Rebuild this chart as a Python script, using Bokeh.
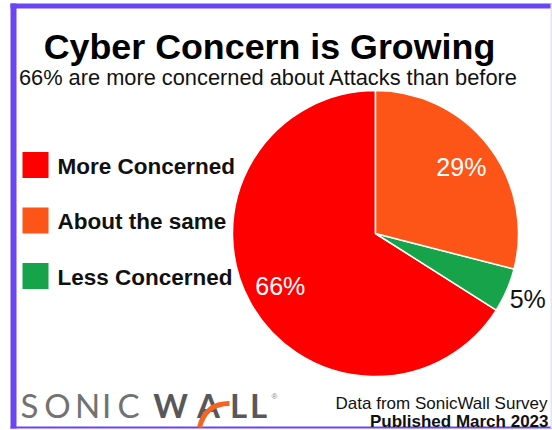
import math
from bokeh.plotting import figure
from bokeh.models import Range1d, ColumnDataSource
from bokeh.embed import file_html
from bokeh.resources import INLINE
from bokeh.core.properties import value

# ---------------- data ----------------
categories = ["More Concerned", "About the same", "Less Concerned"]
percents = [66, 29, 5]
colors = ["#fe0000", "#fd5518", "#17a34a"]
label_texts = ["66%", "29%", "5%"]
# drawing order, anticlockwise from 12 o'clock
pie_order = ["More Concerned", "Less Concerned", "About the same"]

title = "Cyber Concern is Growing"
subtitle = "66% are more concerned about Attacks than before"
source_line1 = "Data from SonicWall Survey"
source_line2 = "Published March 2023"
logo_light = "SONIC"
logo_bold = "WALL"

# ---------------- layout ----------------
W, H = 552, 430


def X(px):               # picture pixel -> local x
    return px


def Y(py):               # picture pixel (from top) -> local y
    return H - py


FONT = value("Liberation Sans")
BORDER = "#6a45f6"

p = figure(width=W, height=H, x_range=Range1d(0, W), y_range=Range1d(0, H),
           output_backend="svg", toolbar_location=None, min_border=0,
           x_axis_type=None, y_axis_type=None,
           background_fill_color="white", border_fill_color="white",
           outline_line_color=None)
p.grid.visible = False

# frame
p.quad(left=[X(10), X(10), X(10), X(550)], right=[W, X(16), W, W],
       top=[Y(3), Y(3), Y(426), Y(3)], bottom=[Y(8), Y(428), Y(428), Y(428)],
       fill_color=[BORDER, BORDER, BORDER, "#e6e4f4"], line_color=None)

# pie
cx, cy, R = X(375), Y(233), 143
idx = {c: i for i, c in enumerate(categories)}
starts, ends, cols, mids, labs, pcts = [], [], [], [], [], []
a = math.pi / 2
for c in pie_order:
    i = idx[c]
    sweep = percents[i] / 100 * 2 * math.pi
    starts.append(a)
    ends.append(a + sweep)
    mids.append(a + sweep / 2)
    cols.append(colors[i])
    labs.append(label_texts[i])
    pcts.append(percents[i])
    a += sweep

src = ColumnDataSource(dict(x=[cx] * 3, y=[cy] * 3, start=starts, end=ends, color=cols))
p.wedge(x="x", y="y", radius=R, radius_units="screen", start_angle="start", end_angle="end",
        fill_color="color", line_color="white", line_width=1.5, source=src)

lx, ly, lc = [], [], []
for m, v in zip(mids, pcts):
    f = 0.76 if v >= 10 else 1.16
    lx.append(cx + f * R * math.cos(m))
    ly.append(cy + f * R * math.sin(m))
    lc.append("white" if v >= 10 else "#111111")
p.text(x=lx, y=ly, text=labs, text_color=lc, text_font=FONT, text_font_size="25px",
       text_align="center", text_baseline="middle")

# titles
p.text(x=[X(269)], y=[Y(46)], text=[title], text_font=FONT, text_font_size="35.8px",
       text_font_style="bold", text_color="#000000", text_align="center",
       text_baseline="alphabetic")
p.text(x=[X(268)], y=[Y(77)], text=[subtitle], text_font=FONT, text_font_size="21.8px",
       text_color="#111111", text_align="center", text_baseline="alphabetic")

# legend
ys = [Y(164.5) - 55.5 * i for i in range(len(categories))]
p.scatter(x=[X(35)] * 3, y=ys, marker="square", size=26, fill_color=colors, line_color=None)
p.text(x=[X(57)] * 3, y=[v - 1 for v in ys], text=categories, text_font=FONT,
       text_font_size="22.5px", text_font_style="bold", text_color="#111111",
       text_align="left", text_baseline="middle")

# source lines
p.text(x=[X(547)], y=[Y(403)], text=[source_line1], text_font=FONT, text_font_size="17px",
       text_color="#111111", text_align="right", text_baseline="alphabetic")
p.text(x=[X(548)], y=[Y(421)], text=[source_line2], text_font=FONT, text_font_size="17px",
       text_font_style="bold", text_color="#111111", text_align="right",
       text_baseline="alphabetic")

# logo
light_x = [X(29), X(57), X(87), X(106), X(128)]
bold_x = [X(170), X(208), X(238), X(258)]
p.text(x=light_x, y=[Y(404)] * 5, text=list(logo_light), text_font=value("Lato"),
       text_font_size="33px", text_color="#727272", text_align="center",
       text_baseline="middle")
p.text(x=bold_x, y=[Y(404)] * 4, text=list(logo_bold), text_font=value("Lato"),
       text_font_size="33px", text_font_style="bold", text_color="#58585a",
       text_align="center", text_baseline="middle")
p.text(x=[X(274)], y=[Y(396)], text=["®"], text_font=FONT, text_font_size="8px",
       text_color="#888888", text_align="center", text_baseline="middle")
p.bezier(x0=[X(199)], y0=[Y(427)], x1=[X(229)], y1=[Y(403)], cx0=[X(203)], cy0=[Y(410)],
         cx1=[X(214)], cy1=[Y(403)], line_color="#f26522", line_width=5)

open("out.html", "w").write(file_html(p, INLINE))
